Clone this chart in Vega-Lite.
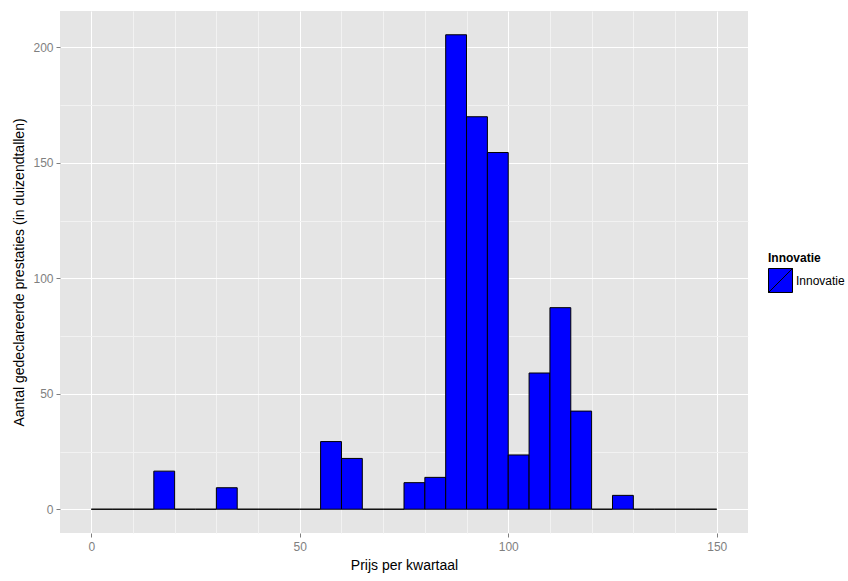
{
  "$schema": "https://vega.github.io/schema/vega-lite/v6.json",
  "width": 688,
  "height": 522,
  "autosize": {"type": "none"},
  "padding": {"left": 60, "top": 11, "right": 100, "bottom": 48},
  "background": "white",
  "config": {
    "view": {"fill": "#e5e5e5", "stroke": null},
    "font": "Liberation Sans",
    "axis": {"domain": false}
  },
  "data": {
    "values": [
      {"start": 0, "end": 5, "count": 0, "group": "Innovatie"},
      {"start": 5, "end": 10, "count": 0, "group": "Innovatie"},
      {"start": 10, "end": 15, "count": 0, "group": "Innovatie"},
      {"start": 15, "end": 20, "count": 16.5, "group": "Innovatie"},
      {"start": 20, "end": 25, "count": 0, "group": "Innovatie"},
      {"start": 25, "end": 30, "count": 0, "group": "Innovatie"},
      {"start": 30, "end": 35, "count": 9.3, "group": "Innovatie"},
      {"start": 35, "end": 40, "count": 0, "group": "Innovatie"},
      {"start": 40, "end": 45, "count": 0, "group": "Innovatie"},
      {"start": 45, "end": 50, "count": 0, "group": "Innovatie"},
      {"start": 50, "end": 55, "count": 0, "group": "Innovatie"},
      {"start": 55, "end": 60, "count": 29.3, "group": "Innovatie"},
      {"start": 60, "end": 65, "count": 22, "group": "Innovatie"},
      {"start": 65, "end": 70, "count": 0, "group": "Innovatie"},
      {"start": 70, "end": 75, "count": 0, "group": "Innovatie"},
      {"start": 75, "end": 80, "count": 11.5, "group": "Innovatie"},
      {"start": 80, "end": 85, "count": 13.8, "group": "Innovatie"},
      {"start": 85, "end": 90, "count": 205.5, "group": "Innovatie"},
      {"start": 90, "end": 95, "count": 170, "group": "Innovatie"},
      {"start": 95, "end": 100, "count": 154.5, "group": "Innovatie"},
      {"start": 100, "end": 105, "count": 23.5, "group": "Innovatie"},
      {"start": 105, "end": 110, "count": 59, "group": "Innovatie"},
      {"start": 110, "end": 115, "count": 87.3, "group": "Innovatie"},
      {"start": 115, "end": 120, "count": 42.5, "group": "Innovatie"},
      {"start": 120, "end": 125, "count": 0, "group": "Innovatie"},
      {"start": 125, "end": 130, "count": 6, "group": "Innovatie"},
      {"start": 130, "end": 135, "count": 0, "group": "Innovatie"},
      {"start": 135, "end": 140, "count": 0, "group": "Innovatie"},
      {"start": 140, "end": 145, "count": 0, "group": "Innovatie"},
      {"start": 145, "end": 150, "count": 0, "group": "Innovatie"}
    ]
  },
  "resolve": {"axis": {"x": "independent", "y": "independent"}},
  "layer": [
    {
      "mark": {"type": "bar", "opacity": 0},
      "encoding": {
        "x": {
          "field": "start", "type": "quantitative",
          "scale": {"domain": [-7.5, 157.5], "nice": false, "zero": false},
          "axis": {"orient": "top", "values": [10, 20, 30, 40, 60, 70, 80, 90, 110, 120, 130, 140], "grid": true, "gridColor": "#f2f2f2", "gridWidth": 1, "labels": false, "ticks": false, "title": null}
        },
        "x2": {"field": "end"},
        "y": {
          "field": "count", "type": "quantitative",
          "scale": {"domain": [-10.3, 215.8], "nice": false, "zero": false},
          "axis": {"orient": "right", "values": [25, 75, 125, 175], "grid": true, "gridColor": "#f2f2f2", "gridWidth": 1, "labels": false, "ticks": false, "title": null}
        },
        "y2": {"datum": 0}
      }
    },
    {
      "mark": {"type": "bar", "stroke": "black", "strokeWidth": 1},
      "encoding": {
        "x": {
          "field": "start", "type": "quantitative",
          "axis": {"orient": "bottom", "values": [0, 50, 100, 150], "grid": true, "gridColor": "white", "gridWidth": 1, "tickColor": "#7f7f7f", "tickSize": 4, "labelColor": "#7f7f7f", "labelFontSize": 12, "labelPadding": 4, "title": "Prijs per kwartaal", "titleFontSize": 14, "titleFontWeight": "normal", "titleColor": "black", "titlePadding": 6}
        },
        "x2": {"field": "end"},
        "y": {
          "field": "count", "type": "quantitative",
          "axis": {"orient": "left", "values": [0, 50, 100, 150, 200], "grid": true, "gridColor": "white", "gridWidth": 1, "tickColor": "#7f7f7f", "tickSize": 4, "labelColor": "#7f7f7f", "labelFontSize": 12, "labelPadding": 3, "title": "Aantal gedeclareerde prestaties (in duizendtallen)", "titleFontSize": 14, "titleFontWeight": "normal", "titleColor": "black", "titlePadding": 6}
        },
        "y2": {"datum": 0},
        "fill": {
          "field": "group", "type": "nominal",
          "scale": {"domain": ["Innovatie"], "range": ["#0000ff"]},
          "legend": {
            "title": "Innovatie", "orient": "none", "legendX": 708, "legendY": 242,
            "titleFontSize": 12, "titleFontWeight": "bold", "titleColor": "black", "titlePadding": 3,
            "symbolType": "M -1 -1 L 1 -1 L 1 1 L -1 1 Z M -1 1 L 1 -1 Z", "symbolSize": 576, "symbolStrokeColor": "black", "symbolStrokeWidth": 1, "symbolOpacity": 1,
            "labelFontSize": 12, "labelColor": "black", "labelOffset": 3
          }
        }
      }
    }
  ]
}
